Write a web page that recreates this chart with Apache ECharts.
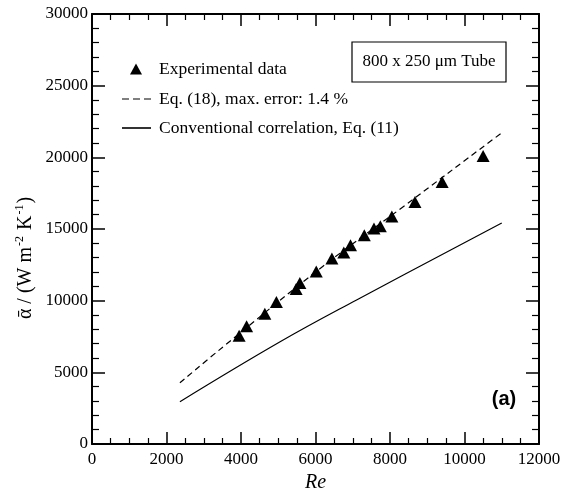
<!DOCTYPE html>
<html><head><meta charset="utf-8">
<script src="https://cdn.jsdelivr.net/npm/echarts@6/dist/echarts.min.js"></script>
<style>html,body{margin:0;padding:0;background:#fff}#c{width:574px;height:492px}</style>
</head><body><div id="c"></div>
<script>
// Experimental data (Re, alpha)
var expRe    = [3950, 4150, 4640, 4950, 5480, 5580, 6020, 6440, 6760, 6940, 7310, 7570, 7740, 8050, 8670, 9400, 10500];
var expAlpha = [7550, 8220, 9080, 9900, 10820, 11240, 12030, 12940, 13360, 13870, 14560, 15030, 15190, 15870, 16880, 18280, 20090];
// Eq. (18) curve
var eq18Re    = [2360, 3520, 6210, 8310, 10730, 11000];
var eq18Alpha = [4270, 6780, 12420, 16470, 21185, 21700];
// Conventional correlation, Eq. (11)
var convRe    = [2360, 5050, 7090, 11000];
var convAlpha = [2950, 7130, 10030, 15420];
var xTicks = [0, 2000, 4000, 6000, 8000, 10000, 12000];
var yTicks = [0, 5000, 10000, 15000, 20000, 25000, 30000];

function zip(a, b) { return a.map(function (v, i) { return [v, b[i]]; }); }
var serif = 'Liberation Serif';
var chart = echarts.init(document.getElementById('c'), null, {renderer: 'canvas'});
var axisCommon = function (pos, showLabel, min, max, interval, minorN, majorLen, minorLen, isX) {
  return {
    type: 'value', position: pos, min: min, max: max, interval: interval,
    axisLine: {show: true, onZero: false, lineStyle: {color: '#000', width: 2}},
    axisTick: {show: true, inside: true, length: majorLen, lineStyle: {color: '#000', width: 1.5}},
    minorTick: {show: true, splitNumber: minorN, length: minorLen, lineStyle: {color: '#000', width: 1.2}},
    splitLine: {show: false},
    axisLabel: {show: showLabel, color: '#000', fontFamily: serif, fontSize: 17, margin: isX ? 7 : 4,
                formatter: function (v) { return String(v); }}
  };
};
var xB = axisCommon('bottom', true, xTicks[0], xTicks[xTicks.length - 1], 2000, 4, 12, 6, true);
xB.name = 'Re'; xB.nameLocation = 'middle'; xB.nameGap = 27;
xB.nameTextStyle = {fontFamily: serif, fontStyle: 'italic', fontSize: 20, color: '#000'};
var xT = axisCommon('top', false, xTicks[0], xTicks[xTicks.length - 1], 2000, 4, 12, 6, true);
var yL = axisCommon('left', true, yTicks[0], yTicks[yTicks.length - 1], 5000, 5, 13, 7, false);
var yR = axisCommon('right', false, yTicks[0], yTicks[yTicks.length - 1], 5000, 5, 13, 7, false);

var legendText = {fontFamily: serif, fontSize: 17.5, color: '#000', lineHeight: 18};
var option = {
  animation: false,
  backgroundColor: '#fff',
  grid: {left: 92, right: 35, top: 14, bottom: 48, outerBoundsMode: 'none', containLabel: false},
  xAxis: [xB, xT],
  yAxis: [yL, yR],
  legend: [
    {data: [{name: 'Experimental data', icon: 'triangle'}], orient: 'vertical', left: 125, top: 55,
     itemWidth: 12, itemHeight: 11, selectedMode: false, itemStyle: {color: '#000', opacity: 1},
     textStyle: Object.assign({padding: [0, 0, 0, 12]}, legendText)},
    {data: [{name: 'Eq. (18), max. error: 1.4 %', icon: 'path://M0,0h7v1h-7z M11,0h7v1h-7z M22,0h7v1h-7z'},
            {name: 'Conventional correlation, Eq. (11)', icon: 'rect'}], orient: 'vertical',
     left: 117, top: 85, itemWidth: 29, itemHeight: 1.6, itemGap: 11, selectedMode: false,
     itemStyle: {color: '#000', opacity: 1, borderWidth: 0},
     textStyle: Object.assign({padding: [0, 0, 0, 3]}, legendText)}
  ],
  series: [
    {name: 'Eq. (18), max. error: 1.4 %', type: 'line', smooth: 0.4, symbol: 'none', data: zip(eq18Re, eq18Alpha),
     lineStyle: {color: '#000', width: 1.2, type: [6, 4]}, itemStyle: {color: '#000'}, z: 2},
    {name: 'Conventional correlation, Eq. (11)', type: 'line', smooth: 0.4, symbol: 'none', data: zip(convRe, convAlpha),
     lineStyle: {color: '#000', width: 1.2}, itemStyle: {color: '#000'}, z: 2},
    {name: 'Experimental data', type: 'scatter', symbol: 'triangle', symbolSize: [13, 12], data: zip(expRe, expAlpha),
     itemStyle: {color: '#000', opacity: 1}, z: 3}
  ],
  graphic: [
    {type: 'rect', shape: {x: 352, y: 42, width: 154, height: 40}, style: {fill: '#fff', stroke: '#000', lineWidth: 1.2}, z: 10},
    {type: 'text', x: 429, y: 62, style: {text: '800 x 250 μm Tube', font: '17px "Liberation Serif"', fill: '#000', align: 'center', verticalAlign: 'middle'}, z: 11},
    {type: 'text', x: 504, y: 399, style: {text: '(a)', font: 'bold 20px "Liberation Sans"', fill: '#000', align: 'center', verticalAlign: 'middle'}, z: 11},
    {type: 'text', x: 26, y: 258, rotation: Math.PI / 2, z: 11,
     style: {text: 'ᾱ / (W m{s|-2} K{s|-1})', fill: '#000', align: 'center', verticalAlign: 'middle',
             font: '20px "Liberation Serif"', lineHeight: 24,
             rich: {s: {fontFamily: serif, fontSize: 12, verticalAlign: 'top', lineHeight: 14, padding: [0, 1, 0, 1]}}}}
  ]
};
chart.setOption(option);
</script></body></html>
